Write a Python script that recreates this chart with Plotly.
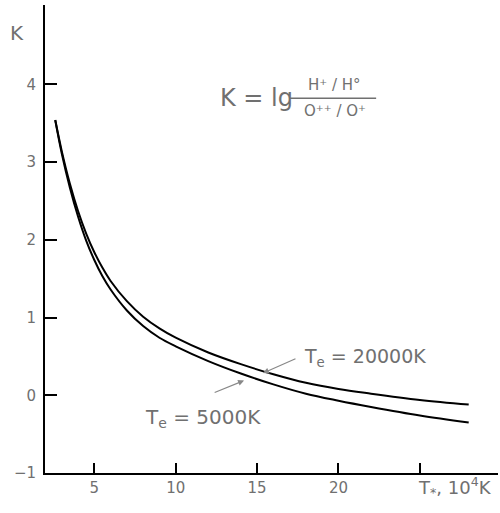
import plotly.graph_objects as go

# Data (T* in 10^4 K, K values)
T_upper = [2.6, 3.0, 3.5, 4.0, 4.5, 5.0, 5.5, 6.0, 7.0, 8.0, 9.0, 10, 12, 14, 16, 18, 20, 22, 25, 28]
K_upper = [3.54, 3.14, 2.72, 2.37, 2.08, 1.84, 1.64, 1.47, 1.21, 1.01, 0.86, 0.74, 0.55, 0.40, 0.27, 0.16, 0.08, 0.02, -0.06, -0.12]
T_lower = [2.6, 3.0, 3.5, 4.0, 4.5, 5.0, 5.5, 6.0, 7.0, 8.0, 9.0, 10, 12, 14, 16, 18, 20, 22, 25, 28]
K_lower = [3.54, 3.11, 2.67, 2.30, 1.99, 1.74, 1.53, 1.36, 1.09, 0.89, 0.74, 0.63, 0.44, 0.28, 0.14, 0.02, -0.07, -0.15, -0.26, -0.35]
x_ticks = [5, 10, 15, 20, 25]
x_ticktext = ["5", "10", "15", "20", ""]
y_ticks = [-1, 0, 1, 2, 3, 4]
y_ticktext = ["\u22121", "0", "1", "2", "3", "4"]

GRAY = "#707070"
FONT = "DejaVu Sans"

fig = go.Figure()
fig.add_trace(go.Scatter(x=T_upper, y=K_upper, mode="lines",
                         line=dict(color="black", width=2, shape="spline", smoothing=1.0),
                         name="Te = 20000K", showlegend=False, hoverinfo="skip"))
fig.add_trace(go.Scatter(x=T_lower, y=K_lower, mode="lines",
                         line=dict(color="black", width=2, shape="spline", smoothing=1.0),
                         name="Te = 5000K", showlegend=False, hoverinfo="skip"))

fig.update_layout(
    width=500, height=513,
    margin=dict(l=45, r=2, t=5, b=40, autoexpand=False),
    plot_bgcolor="white", paper_bgcolor="white",
    font=dict(family=FONT, color=GRAY, size=15),
    xaxis=dict(range=[1.97, 29.8], showgrid=False, zeroline=False, automargin=False,
               showline=True, linecolor="black", linewidth=2,
               ticks="inside", ticklen=10, tickwidth=2, tickcolor="black",
               tickvals=x_ticks, ticktext=x_ticktext,
               tickfont=dict(family=FONT, color=GRAY, size=15)),
    yaxis=dict(range=[-1, 5.02], showgrid=False, zeroline=False, automargin=False,
               showline=True, linecolor="black", linewidth=2,
               ticks="inside", ticklen=12, tickwidth=2, tickcolor="black",
               tickvals=y_ticks, ticktext=y_ticktext, ticklabelstandoff=4,
               tickfont=dict(family=FONT, color=GRAY, size=15)),
)

C = dict(xanchor="center", yanchor="middle", showarrow=False)
annotations = [
    # axis titles
    dict(text="K", xref="paper", yref="paper", x=-0.062, y=0.94,
         font=dict(size=20, color=GRAY, family=FONT), **C),
    dict(text="T<sub>*</sub>, 10<sup>4</sup>K", xref="paper", yref="paper", x=0.905, y=-0.03,
         font=dict(size=18, color=GRAY, family=FONT), **C),
    # formula
    dict(text="K = lg", xref="paper", yref="paper", x=0.466, y=0.801,
         font=dict(size=24, color=GRAY, family=FONT), **C),
    dict(text="H\u207a / H\u00b0", xref="paper", yref="paper", x=0.64, y=0.829,
         font=dict(size=15, color=GRAY, family=FONT), **C),
    dict(text="O\u207a\u207a / O\u207a", xref="paper", yref="paper", x=0.64, y=0.774,
         font=dict(size=15, color=GRAY, family=FONT), **C),
    # curve labels with arrows
    dict(text="T<sub>e</sub> = 20000K", x=21.6, y=0.49, xref="x", yref="y",
         font=dict(size=19, color=GRAY, family=FONT), **C),
    dict(x=15.36, y=0.285, ax=17.45, ay=0.478, xref="x", yref="y", axref="x", ayref="y",
         showarrow=True, arrowhead=2, arrowsize=1, arrowwidth=1.2, arrowcolor="#888888", text=""),
    dict(text="T<sub>e</sub> = 5000K", x=11.68, y=-0.29, xref="x", yref="y",
         font=dict(size=20, color=GRAY, family=FONT), **C),
    dict(x=14.2, y=0.19, ax=12.3, ay=0.028, xref="x", yref="y", axref="x", ayref="y",
         showarrow=True, arrowhead=2, arrowsize=1, arrowwidth=1.2, arrowcolor="#888888", text=""),
]
fig.update_layout(annotations=annotations)

fig.add_shape(type="line", xref="paper", yref="paper", x0=0.541, x1=0.731, y0=0.801, y1=0.801,
              line=dict(color=GRAY, width=1.5))

fig.write_html("out.html", config={"displayModeBar": False},
               post_script="document.body.style.margin='0';document.body.style.padding='0';")
